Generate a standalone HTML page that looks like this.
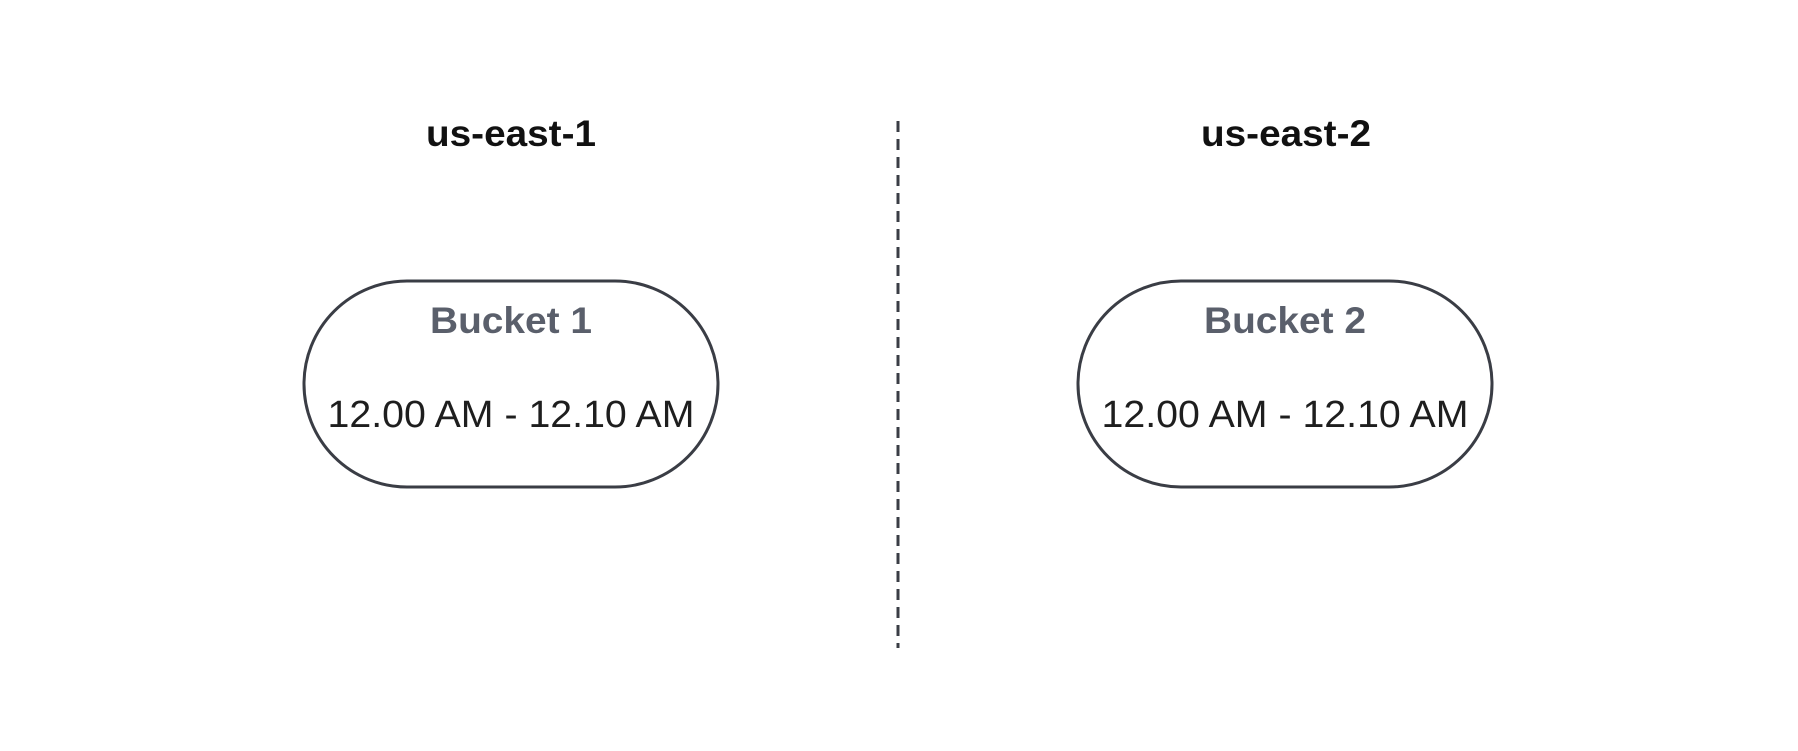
<!DOCTYPE html>
<html><head><style>
body{margin:0;background:#fff;width:1798px;height:746px;overflow:hidden}
</style></head><body>
<svg width="1798" height="746" xmlns="http://www.w3.org/2000/svg" font-family="Liberation Sans, sans-serif">
<rect width="1798" height="746" fill="#fff"/>
<text x="511" y="146" text-anchor="middle" font-size="37" font-weight="bold" fill="#111" textLength="170" lengthAdjust="spacingAndGlyphs">us-east-1</text>
<text x="1286" y="146" text-anchor="middle" font-size="37" font-weight="bold" fill="#111" textLength="170" lengthAdjust="spacingAndGlyphs">us-east-2</text>
<line x1="898" y1="121" x2="898" y2="648" stroke="#3a3d45" stroke-width="3" stroke-dasharray="11,7"/>
<rect x="304" y="281" width="414" height="206" rx="103" ry="103" fill="#fff" stroke="#3a3d45" stroke-width="3"/>
<rect x="1078" y="281" width="414" height="206" rx="103" ry="103" fill="#fff" stroke="#3a3d45" stroke-width="3"/>
<text x="511" y="333" text-anchor="middle" font-size="37" font-weight="bold" fill="#5a5f6b" textLength="162" lengthAdjust="spacingAndGlyphs">Bucket 1</text>
<text x="1285" y="333" text-anchor="middle" font-size="37" font-weight="bold" fill="#5a5f6b" textLength="162" lengthAdjust="spacingAndGlyphs">Bucket 2</text>
<text x="511" y="427" text-anchor="middle" font-size="38" fill="#1e1e1e" textLength="367" lengthAdjust="spacingAndGlyphs">12.00 AM - 12.10 AM</text>
<text x="1285" y="427" text-anchor="middle" font-size="38" fill="#1e1e1e" textLength="367" lengthAdjust="spacingAndGlyphs">12.00 AM - 12.10 AM</text>
</svg>
</body></html>
